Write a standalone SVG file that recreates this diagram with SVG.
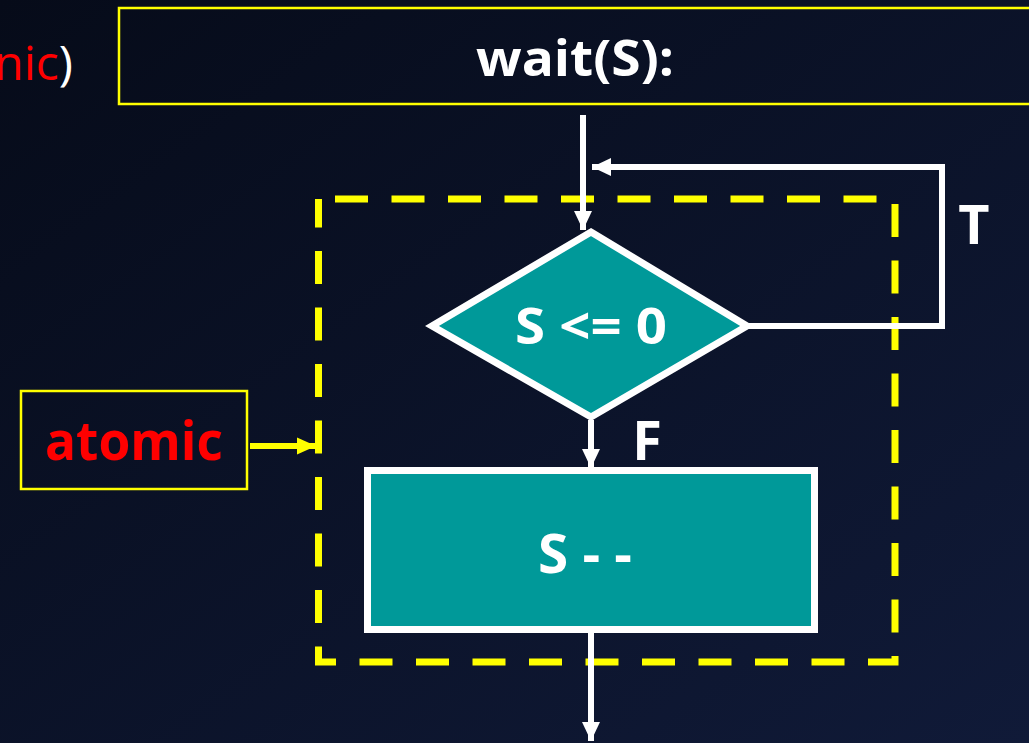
<svg xmlns="http://www.w3.org/2000/svg" width="1029" height="743" viewBox="0 0 1029 743">
  <defs>
    <linearGradient id="bg" x1="0" y1="0" x2="1" y2="1">
      <stop offset="0" stop-color="#060b19"/>
      <stop offset="1" stop-color="#101a38"/>
    </linearGradient>
    <marker id="wArrow" markerUnits="userSpaceOnUse" markerWidth="22" markerHeight="22" viewBox="0 0 22 22" refX="19" refY="11" orient="auto">
      <path d="M0,2 L19,11 L0,20 Z" fill="#ffffff"/>
    </marker>
    <marker id="yArrow" markerUnits="userSpaceOnUse" markerWidth="22" markerHeight="22" viewBox="0 0 22 22" refX="19" refY="11" orient="auto">
      <path d="M0,2.5 L19,11 L0,19.5 Z" fill="#ffff00"/>
    </marker>
  </defs>
  <style>
    .box { fill: none; stroke: #ffff00; stroke-width: 2.5; }
    .shape { fill: #009999; stroke: #ffffff; stroke-width: 7; stroke-linejoin: miter; }
    .wline { fill: none; stroke: #ffffff; stroke-width: 6; }
    .yline { fill: none; stroke: #ffff00; stroke-width: 6; }
    .dash { fill: none; stroke: #ffff00; stroke-width: 7; stroke-dasharray: 33 23.5; stroke-dashoffset: 40; }
    .lbl { font-family: "Open Sans", "Liberation Sans", sans-serif; font-weight: bold; fill: #ffffff; }
    .red { font-family: "Open Sans", "Liberation Sans", sans-serif; fill: #ff0000; }
  </style>
  <rect x="0" y="0" width="1029" height="743" fill="url(#bg)"/>

  <g id="title-fragment">
    <text x="73" y="80" text-anchor="end" font-family="Open Sans, Liberation Sans, sans-serif" font-size="48" fill="#ff0000">nic<tspan fill="#ffffff">)</tspan></text>
  </g>

  <g id="wait-box">
    <rect class="box" x="119" y="8" width="930" height="96"/>
    <text class="lbl" x="575" y="76" text-anchor="middle" font-size="50" textLength="198" lengthAdjust="spacingAndGlyphs">wait(S):</text>
  </g>

  <g id="atomic-region">
    <path class="dash" d="M318.5,199 H895 V662 H318.5 Z"/>
  </g>

  <g id="atomic-box">
    <rect class="box" x="21" y="391" width="226" height="98"/>
    <text class="red" x="134" y="460" text-anchor="middle" font-size="54" font-weight="bold" textLength="178" lengthAdjust="spacingAndGlyphs">atomic</text>
  </g>

  <g id="decision">
    <polygon class="shape" points="591,232 747,326 591,417 432,326"/>
    <text class="lbl" x="591" y="344" text-anchor="middle" font-size="50" textLength="152" lengthAdjust="spacingAndGlyphs">S &lt;= 0</text>
  </g>

  <g id="decrement">
    <rect class="shape" x="367.5" y="470.5" width="447" height="159"/>
    <text class="lbl" x="585" y="573" text-anchor="middle" font-size="54" textLength="94" lengthAdjust="spacingAndGlyphs">S - -</text>
  </g>

  <g id="connectors">
    <path class="wline" d="M583,115 V230" marker-end="url(#wArrow)"/>
    <path class="wline" d="M747,326 H942 V167 H592" marker-end="url(#wArrow)"/>
    <path class="wline" d="M591,420 V468" marker-end="url(#wArrow)"/>
    <path class="wline" d="M591,633 V741" marker-end="url(#wArrow)"/>
    <path class="yline" d="M250,446 H316" marker-end="url(#yArrow)"/>
    <text class="lbl" x="974" y="244" text-anchor="middle" font-size="54">T</text>
    <text class="lbl" x="647" y="460" text-anchor="middle" font-size="54">F</text>
  </g>
</svg>
